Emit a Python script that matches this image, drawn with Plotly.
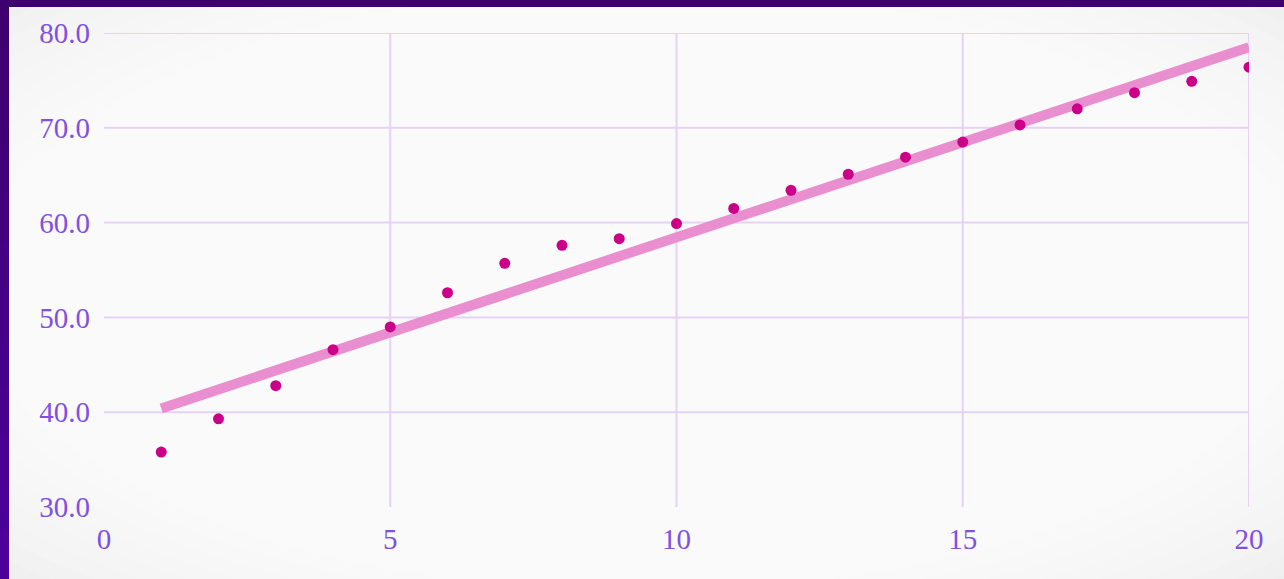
import plotly.graph_objects as go

x_vals = list(range(1, 21))
y_vals = [35.8, 39.3, 42.8, 46.6, 49.0, 52.6, 55.7, 57.6, 58.3, 59.9,
          61.5, 63.4, 65.1, 66.9, 68.5, 70.3, 72.0, 73.7, 74.9, 76.4]
trend_x = [1, 20]
trend_y = [40.4, 78.5]
x_ticks = [0, 5, 10, 15, 20]
y_ticks = [30, 40, 50, 60, 70, 80]
y_labels = ["30.0", "40.0", "50.0", "60.0", "70.0", "80.0"]

W, H = 1284, 579
ML, MR, MT, MB = 104, 35, 33, 72
PW, PH = W - ML - MR, H - MT - MB

def px2x(px):
    return (px - ML) / PW

def py2y(py):
    return (H - MB - py) / PH

TXT = "#8150e0"
GRID = "#e6d2f7"

shapes = []
# background vignette
fx0, fx1 = px2x(0), px2x(W)
fy0, fy1 = py2y(H), py2y(0)
cx, cy = (fx0 + fx1) / 2, (fy0 + fy1) / 2
hw, hh = (fx1 - fx0) / 2, (fy1 - fy0) / 2
N = 30
for i in range(N):
    s = 1.45 - 1.35 * i / N
    shapes.append(dict(type="circle", xref="paper", yref="paper", layer="below",
                       x0=cx - hw * s, x1=cx + hw * s, y0=cy - hh * s, y1=cy + hh * s,
                       fillcolor="rgba(255,255,255,0.16)", line=dict(width=0)))
# grid lines
for yv in y_ticks[1:]:
    shapes.append(dict(type="line", xref="x", yref="y", layer="below",
                       x0=0, x1=20, y0=yv, y1=yv, line=dict(color=GRID, width=2)))
for xv in x_ticks[1:]:
    shapes.append(dict(type="line", xref="x", yref="y", layer="below",
                       x0=xv, x1=xv, y0=30, y1=80, line=dict(color=GRID, width=2)))
# frame bands
shapes.append(dict(type="rect", xref="paper", yref="paper", layer="above",
                   x0=px2x(0), x1=px2x(W), y0=py2y(7), y1=py2y(0),
                   fillcolor="#3d006e", line=dict(width=0)))
nseg = 12
for i in range(nseg):
    t = i / (nseg - 1)
    r = int(0x3d + (0x4b - 0x3d) * t)
    b = int(0x6e + (0x9a - 0x6e) * t)
    shapes.append(dict(type="rect", xref="paper", yref="paper", layer="above",
                       x0=px2x(0), x1=px2x(9),
                       y0=py2y(H * (i + 1) / nseg + 1), y1=py2y(H * i / nseg),
                       fillcolor=f"rgb({r},0,{b})", line=dict(width=0)))

fig = go.Figure()
fig.add_trace(go.Scatter(x=trend_x, y=trend_y, mode="lines",
                         line=dict(color="#e98fd0", width=10), hoverinfo="skip"))
fig.add_trace(go.Scatter(x=x_vals, y=y_vals, mode="markers",
                         marker=dict(color="#cc0088", size=11)))

fig.update_layout(
    width=W, height=H,
    margin=dict(l=ML, r=MR, t=MT, b=MB),
    paper_bgcolor="#ebebeb",
    plot_bgcolor="rgba(0,0,0,0)",
    showlegend=False,
    shapes=shapes,
    font=dict(family="Liberation Serif", size=29, color=TXT),
    xaxis=dict(range=[0, 20], tickvals=x_ticks, showgrid=False, zeroline=False,
               showline=False, ticks="", ticklabelstandoff=12,
               tickfont=dict(family="Liberation Serif", size=29, color=TXT)),
    yaxis=dict(range=[30, 80], tickvals=y_ticks, ticktext=y_labels, showgrid=False,
               zeroline=False, showline=False, ticks="", ticklabelstandoff=13,
               tickfont=dict(family="Liberation Serif", size=29, color=TXT)),
)

fig.write_html("out.html")
